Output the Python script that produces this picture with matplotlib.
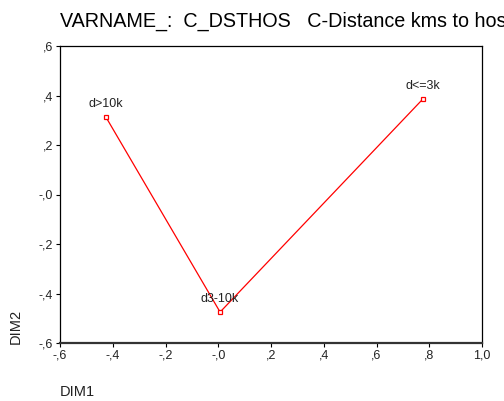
import matplotlib
matplotlib.use("Agg")
import matplotlib.pyplot as plt
from matplotlib.ticker import FixedLocator, FuncFormatter

plt.rcParams['font.family'] = ['Liberation Sans', 'DejaVu Sans']

# Category quantifications on the two dimensions
categories = ["d>10k", "d3-10k", "d<=3k"]
dim1 = [-0.426, 0.007, 0.776]
dim2 = [0.313, -0.475, 0.386]

x_ticks = [-0.6, -0.4, -0.2, 0.0, 0.2, 0.4, 0.6, 0.8, 1.0]
y_ticks = [-0.6, -0.4, -0.2, 0.0, 0.2, 0.4, 0.6]

title = "VARNAME_:  C_DSTHOS   C-Distance kms to hos"


def comma_fmt(v, pos=None):
    s = f"{abs(v):.1f}".replace(".", ",")
    if s.startswith("0,"):
        s = s[1:]
    sign = "-" if v < 0 or abs(v) < 1e-9 else ""
    return sign + s


W, H = 504, 401
fig = plt.figure(figsize=(W / 100, H / 100), dpi=100)
ax = fig.add_axes([60 / W, 1 - 343 / H, (482 - 60) / W, (343 - 46) / H])

ax.plot(dim1, dim2, color="red", linewidth=0.9, marker="s", markersize=3.5,
        markerfacecolor="white", markeredgecolor="red", markeredgewidth=0.9,
        zorder=3)
for name, x, y in zip(categories, dim1, dim2):
    ax.annotate(name, (x, y), xytext=(0, 5), textcoords="offset points",
                ha="center", va="bottom", fontsize=9, color="#222222")

ax.set_xlim(-0.6, 1.0)
ax.set_ylim(-0.6, 0.6)
ax.xaxis.set_major_locator(FixedLocator(x_ticks))
ax.yaxis.set_major_locator(FixedLocator(y_ticks))
ax.xaxis.set_major_formatter(FuncFormatter(comma_fmt))
ax.yaxis.set_major_formatter(FuncFormatter(comma_fmt))
ax.tick_params(direction="out", length=3, width=0.8, labelsize=9,
               colors="black", labelcolor="#222222", pad=2)

for side in ["left", "right", "top"]:
    ax.spines[side].set_linewidth(0.9)
ax.spines["bottom"].set_linewidth(1.6)
ax.spines["bottom"].set_color("#333333")

fig.text(60 / W, 1 - 21 / H, title, fontsize=14.2, ha="left", va="center",
         color="black")
fig.text(60 / W, 1 - 392 / H, "DIM1", fontsize=10.5, ha="left", va="center",
         color="#222222")
fig.text(16 / W, 1 - 344 / H, "DIM2", fontsize=10.5, rotation=90,
         ha="center", va="bottom", color="#222222")

fig.savefig("out.png", dpi=100)
